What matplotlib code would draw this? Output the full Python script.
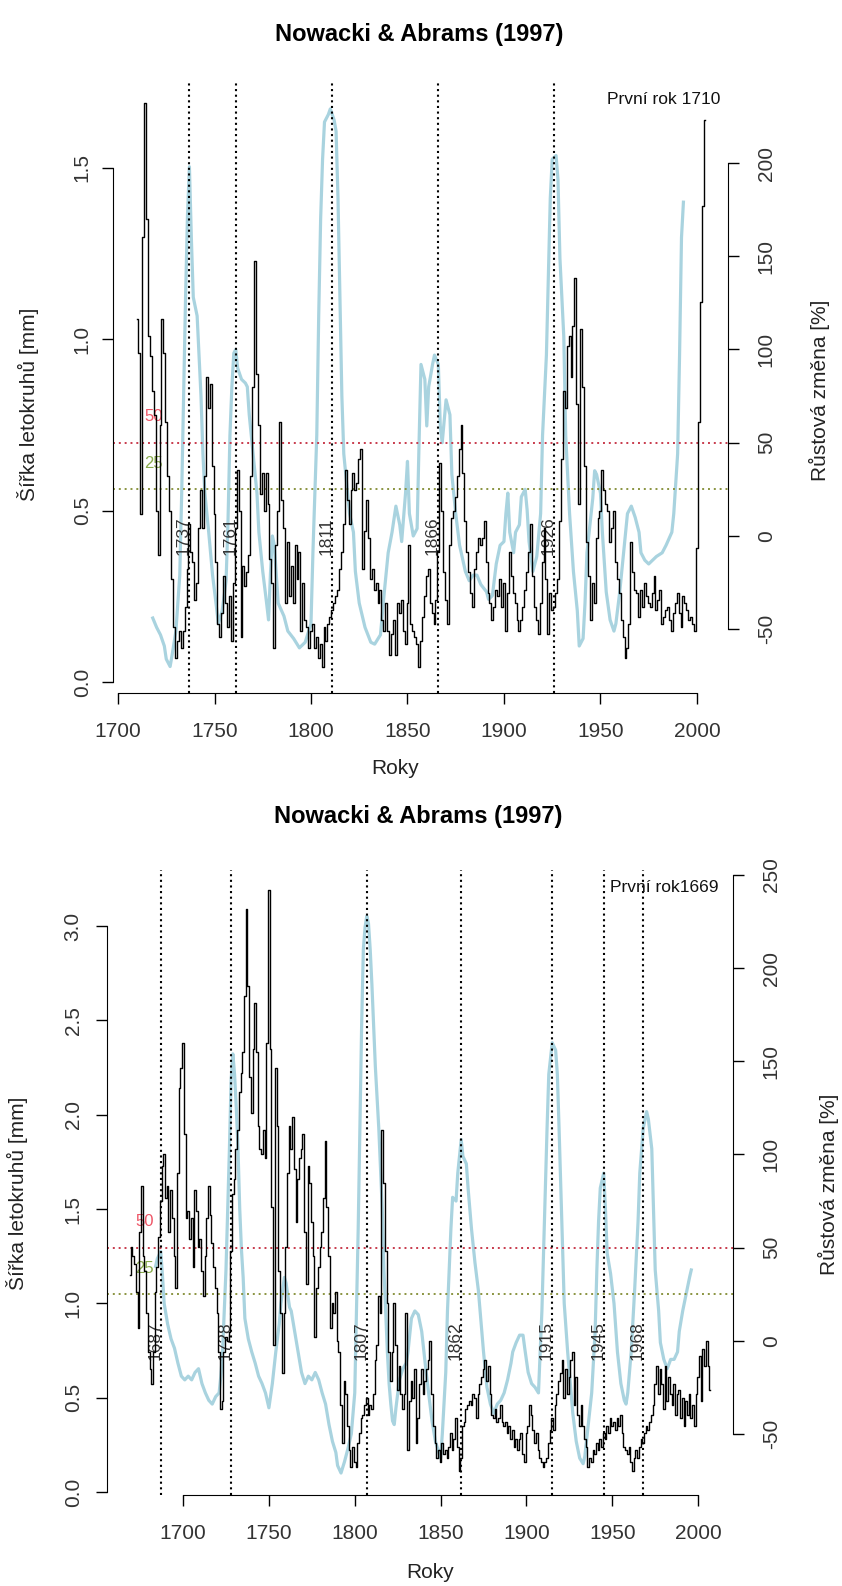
import matplotlib
matplotlib.use("Agg")
import matplotlib.pyplot as plt
import matplotlib.transforms as mtransforms
import numpy as np

plt.rcParams['font.family'] = ['Liberation Sans', 'DejaVu Sans']

TITLE = "Nowacki & Abrams (1997)"
XLABEL = "Roky"
YLABEL_L = "Šířka letokruhů [mm]"
YLABEL_R = "Růstová změna [%]"

# ---------------- top panel data ----------------
top_first_year = 1710
top_first_text = "První rok 1710"
top_ring = [
    1.06, 0.96, 0.49, 1.30, 1.69, 1.35, 1.01, 0.95, 0.85, 0.78,
    0.50, 0.37, 0.75, 1.06, 0.96, 0.76, 0.60, 0.50, 0.30, 0.16,
    0.07, 0.12, 0.15, 0.10, 0.15, 0.22, 0.33, 0.46, 0.38, 0.35,
    0.24, 0.29, 0.45, 0.56, 0.45, 0.60, 0.89, 0.80, 0.87, 0.63,
    0.49, 0.35, 0.17, 0.13, 0.20, 0.31, 0.23, 0.16, 0.25, 0.12,
    0.29, 0.45, 0.62, 0.50, 0.13, 0.34, 0.28, 0.32, 0.37, 0.60,
    0.86, 1.23, 0.90, 0.75, 0.55, 0.61, 0.50, 0.61, 0.52, 0.36,
    0.29, 0.10, 0.40, 0.50, 0.76, 0.53, 0.45, 0.23, 0.41, 0.25,
    0.34, 0.23, 0.40, 0.30, 0.38, 0.15, 0.29, 0.18, 0.16, 0.10,
    0.15, 0.17, 0.10, 0.13, 0.07, 0.11, 0.045, 0.16, 0.12, 0.17,
    0.19, 0.21, 0.23, 0.25, 0.27, 0.33, 0.38, 0.46, 0.62, 0.53,
    0.46, 0.56, 0.61, 0.56, 0.58, 0.65, 0.68, 0.33, 0.44, 0.53,
    0.42, 0.30, 0.33, 0.27, 0.29, 0.23, 0.27, 0.18, 0.15, 0.23,
    0.15, 0.08, 0.14, 0.18, 0.08, 0.23, 0.20, 0.24, 0.15, 0.11,
    0.23, 0.40, 0.17, 0.15, 0.13, 0.11, 0.045, 0.12, 0.19, 0.25,
    0.31, 0.33, 0.23, 0.20, 0.17, 0.24, 0.38, 0.64, 0.50, 0.32,
    0.24, 0.17, 0.40, 0.48, 0.50, 0.54, 0.60, 0.68, 0.75, 0.61,
    0.47, 0.38, 0.32, 0.26, 0.22, 0.33, 0.38, 0.42, 0.40, 0.42,
    0.47, 0.35, 0.26, 0.23, 0.18, 0.22, 0.27, 0.25, 0.30, 0.22,
    0.29, 0.15, 0.26, 0.38, 0.31, 0.26, 0.23, 0.18, 0.15, 0.18,
    0.22, 0.27, 0.32, 0.38, 0.46, 0.31, 0.22, 0.18, 0.14, 0.23,
    0.35, 0.45, 0.30, 0.14, 0.26, 0.21, 0.22, 0.26, 0.30, 0.47,
    0.65, 0.85, 0.80, 0.98, 1.01, 0.89, 1.04, 1.18, 0.81, 0.52,
    1.03, 0.86, 0.63, 0.41, 0.31, 0.18, 0.29, 0.23, 0.42, 0.48,
    0.50, 0.62, 0.56, 0.52, 0.50, 0.41, 0.45, 0.50, 0.35, 0.30,
    0.26, 0.18, 0.13, 0.07, 0.10, 0.17, 0.41, 0.32, 0.27, 0.26,
    0.19, 0.27, 0.22, 0.29, 0.25, 0.23, 0.22, 0.26, 0.31, 0.21,
    0.24, 0.27, 0.17, 0.19, 0.21, 0.22, 0.18, 0.15, 0.20, 0.23,
    0.26, 0.20, 0.16, 0.25, 0.23, 0.21, 0.18, 0.19, 0.17, 0.15,
    0.39, 0.76, 1.11, 1.39, 1.64,
]
top_gc_years = [
    1718, 1720, 1722, 1724, 1725, 1727, 1728, 1730, 1732, 1733, 1734, 1735, 1736, 1737, 1738, 1739,
    1741, 1743, 1744, 1745, 1747, 1749, 1751, 1752, 1754, 1756, 1757, 1758, 1759, 1760, 1761, 1762,
    1764, 1766, 1767, 1768, 1770, 1772, 1773, 1775, 1777, 1778, 1779, 1780, 1781, 1783, 1786, 1788,
    1791, 1794, 1797, 1800, 1801, 1803, 1804, 1805, 1806, 1807, 1809, 1810, 1812, 1813, 1814, 1815,
    1816, 1817, 1819, 1820, 1822, 1823, 1825, 1828, 1831, 1833, 1836, 1838, 1840, 1842, 1844, 1846,
    1847, 1849, 1850, 1851, 1853, 1855, 1856, 1857, 1859, 1860, 1861, 1863, 1864, 1866, 1867, 1868,
    1870, 1872, 1873, 1875, 1877, 1880, 1882, 1884, 1886, 1888, 1891, 1892, 1894, 1896, 1898, 1900,
    1901, 1902, 1903, 1905, 1906, 1908, 1909, 1911, 1912, 1913, 1915, 1917, 1919, 1920, 1922, 1923,
    1924, 1925, 1927, 1928, 1929, 1931, 1932, 1934, 1936, 1938, 1939, 1941, 1942, 1943, 1945, 1946,
    1947, 1948, 1950, 1951, 1953, 1955, 1957, 1958, 1960, 1962, 1964, 1966, 1968, 1970, 1971, 1973,
    1975, 1977, 1979, 1982, 1984, 1987, 1988, 1990, 1991, 1992, 1993,
]
top_gc = [
    -44, -49, -53, -59, -66, -70, -64, -51, -21, 23, 75, 128, 172, 198, 160, 128,
    118, 75, 44, 23, 2, -21, -38, -47, -40, -24, 8, 54, 80, 98, 100, 90,
    84, 82, 80, 65, 44, 23, 2, -19, -36, -45, -20, 0, -5, -36, -43, -51,
    -55, -60, -57, -47, -9, 54, 118, 170, 202, 222, 226, 229, 223, 217, 181, 128,
    75, 44, 23, 12, 2, -19, -36, -49, -57, -58, -53, -30, -9, 2, 16, 6,
    -3, 23, 40, 12, 0, 4, 50, 92, 84, 59, 80, 92, 97, 92, 59, 50,
    73, 65, 33, 12, -5, -19, -24, -21, -21, -26, -30, -34, -32, -15, -5, -3,
    12, 23, 2, -9, 2, 6, 21, 25, 14, -3, -19, -11, 12, 54, 97, 139,
    181, 202, 204, 191, 149, 107, 54, 12, -19, -40, -59, -55, -36, -9, 10, 20,
    35, 33, 23, 2, -30, -45, -51, -47, -30, -9, 12, 16, 10, 2, -9, -13,
    -15, -13, -11, -9, -5, 2, 12, 44, 97, 160, 179,
]
top_release_years = [1737, 1761, 1811, 1866, 1926]

# ---------------- bottom panel data ----------------
bot_first_year = 1669
bot_first_text = "První rok1669"
bot_ring = [
    1.15,
    1.30, 1.25, 1.21, 1.06, 0.87, 1.38, 1.62, 1.25, 1.17, 0.95,
    0.74, 0.65, 0.57, 0.74, 1.06, 1.19, 1.35, 1.54, 1.73, 1.79,
    1.56, 1.62, 1.38, 1.60, 1.45, 1.25, 1.08, 1.69, 2.14, 2.25,
    2.38, 1.90, 1.45, 1.49, 1.34, 1.45, 1.19, 1.60, 1.49, 1.30,
    1.34, 1.17, 1.04, 1.25, 1.45, 1.62, 1.47, 1.32, 1.19, 1.08,
    0.95, 0.74, 0.44, 0.48, 0.74, 0.82, 0.80, 0.85, 1.28, 1.58,
    1.66, 1.82, 1.92, 2.12, 2.22, 2.33, 2.63, 3.09, 2.68, 2.20,
    2.01, 2.35, 2.59, 2.33, 1.94, 1.82, 1.79, 1.92, 1.77, 2.38,
    3.19, 2.35, 1.51, 0.78, 2.25, 1.94, 1.17, 0.95, 0.63, 0.95,
    1.30, 1.69, 1.94, 1.82, 1.99, 1.71, 1.43, 1.66, 1.77, 1.82,
    1.90, 1.38, 1.10, 1.73, 1.64, 1.43, 1.25, 0.82, 1.08, 1.19,
    1.30, 1.38, 1.56, 1.86, 1.51, 1.25, 0.87, 1.00, 0.95, 1.06,
    0.80, 0.74, 0.46, 0.26, 0.59, 0.52, 0.35, 0.22, 0.13, 0.24,
    0.16, 0.13, 0.26, 0.31, 0.39, 0.41, 0.46, 0.50, 0.41, 0.46,
    0.44, 0.52, 0.70, 0.78, 1.04, 0.95, 1.92, 1.64, 1.28, 1.00,
    0.74, 0.59, 0.74, 1.00, 0.78, 0.54, 0.67, 0.52, 0.44, 0.52,
    0.95, 0.22, 0.48, 0.59, 0.50, 0.65, 0.26, 0.39, 0.57, 0.65,
    0.52, 0.59, 0.65, 0.70, 0.80, 0.52, 0.35, 0.26, 0.18, 0.22,
    0.16, 0.26, 0.20, 0.22, 0.18, 0.24, 0.31, 0.22, 0.28, 0.39,
    0.24, 0.11, 0.18, 0.35, 0.37, 0.44, 0.46, 0.48, 0.46, 0.52,
    0.50, 0.39, 0.52, 0.57, 0.61, 0.65, 0.70, 0.59, 0.67, 0.52,
    0.41, 0.39, 0.44, 0.37, 0.39, 0.46, 0.37, 0.35, 0.37, 0.31,
    0.35, 0.28, 0.33, 0.24, 0.28, 0.22, 0.28, 0.31, 0.20, 0.16,
    0.31, 0.35, 0.46, 0.41, 0.33, 0.26, 0.31, 0.22, 0.18, 0.16,
    0.13, 0.16, 0.18, 0.26, 0.33, 0.39, 0.33, 0.46, 0.52, 0.59,
    0.63, 0.70, 0.50, 0.65, 0.52, 0.61, 0.70, 0.74, 0.46, 0.61,
    0.41, 0.35, 0.46, 0.35, 0.28, 0.24, 0.13, 0.18, 0.16, 0.22,
    0.20, 0.26, 0.22, 0.28, 0.24, 0.31, 0.28, 0.35, 0.31, 0.39,
    0.35, 0.37, 0.33, 0.39, 0.35, 0.41, 0.31, 0.24, 0.22, 0.20,
    0.24, 0.16, 0.11, 0.18, 0.22, 0.18, 0.24, 0.28, 0.26, 0.31,
    0.35, 0.33, 0.37, 0.41, 0.46, 0.57, 0.67, 0.52, 0.65, 0.57,
    0.44, 0.67, 0.48, 0.61, 0.52, 0.46, 0.57, 0.41, 0.52, 0.54,
    0.39, 0.50, 0.35, 0.48, 0.41, 0.52, 0.39, 0.46, 0.35, 0.52,
    0.61, 0.72, 0.48, 0.76, 0.67, 0.80, 0.67, 0.54,
]
bot_gc_years = [
    1684, 1685, 1687, 1688, 1689, 1691, 1693, 1695, 1697, 1699, 1701, 1703, 1705, 1707, 1709, 1711,
    1713, 1715, 1717, 1719, 1721, 1722, 1723, 1724, 1725, 1726, 1727, 1728, 1729, 1730, 1731, 1732,
    1733, 1734, 1735, 1736, 1738, 1740, 1742, 1744, 1746, 1748, 1750, 1752, 1754, 1756, 1757, 1759,
    1760, 1762, 1763, 1765, 1767, 1769, 1771, 1773, 1775, 1777, 1779, 1781, 1783, 1785, 1787, 1789,
    1790, 1792, 1794, 1796, 1798, 1800, 1801, 1802, 1803, 1804, 1805, 1806, 1807, 1808, 1809, 1810,
    1811, 1812, 1813, 1814, 1815, 1816, 1817, 1818, 1819, 1820, 1821, 1822, 1823, 1824, 1826, 1828,
    1830, 1831, 1833, 1835, 1837, 1839, 1841, 1843, 1845, 1847, 1849, 1850, 1851, 1853, 1854, 1855,
    1856, 1857, 1859, 1860, 1862, 1863, 1865, 1866, 1868, 1870, 1872, 1873, 1875, 1877, 1879, 1881,
    1883, 1885, 1887, 1889, 1891, 1892, 1894, 1896, 1898, 1899, 1901, 1903, 1905, 1907, 1909, 1910,
    1911, 1912, 1913, 1915, 1917, 1918, 1919, 1920, 1921, 1922, 1924, 1925, 1927, 1929, 1931, 1933,
    1934, 1936, 1938, 1940, 1941, 1942, 1943, 1945, 1946, 1947, 1949, 1951, 1953, 1955, 1957, 1958,
    1959, 1961, 1963, 1965, 1966, 1968, 1970, 1971, 1973, 1974, 1975, 1977, 1978, 1980, 1982, 1984,
    1986, 1988, 1989, 1991, 1993, 1995, 1996,
]
bot_gc = [
    40, 44, 48, 35, 20, 9, 1, -4, -12, -19, -21, -19, -21, -17, -15, -23,
    -28, -32, -34, -30, -28, -19, -6, 16, 38, 71, 103, 140, 154, 143, 125, 103,
    71, 49, 34, 12, 1, -6, -12, -19, -23, -28, -36, -23, -6, 9, 20, 34,
    31, 18, 16, 5, -6, -17, -23, -19, -21, -17, -21, -28, -34, -45, -54, -60,
    -67, -71, -65, -58, -50, -28, 16, 60, 114, 169, 210, 222, 228, 224, 210, 191,
    169, 147, 130, 114, 93, 71, 38, 16, -6, -23, -34, -43, -45, -36, -21, -15,
    -12, -6, 12, 16, 14, 5, -12, -28, -43, -54, -60, -63, -50, -17, 16, 38,
    60, 77, 75, 90, 108, 99, 95, 82, 60, 42, 27, 16, -6, -25, -34, -39,
    -34, -32, -28, -21, -12, -6, -1, 3, 3, -4, -17, -23, -25, -28, 16, 49,
    82, 114, 143, 160, 156, 143, 114, 82, 49, 20, -6, -17, -39, -54, -63, -66,
    -62, -45, -28, 5, 38, 64, 82, 90, 71, 47, 36, 20, -6, -23, -32, -34,
    -28, -6, 27, 64, 90, 114, 123, 119, 103, 71, 38, 16, -1, -10, -15, -10,
    -10, -6, 5, 16, 25, 34, 38,
]
bot_release_years = [1687, 1728, 1807, 1862, 1915, 1945, 1968]

thresholds = [50, 25]
threshold_line_colors = ['#c83a4c', '#8a9440']
threshold_text_colors = ['#ee5566', '#88aa4c']

x_ticks = [1700, 1750, 1800, 1850, 1900, 1950, 2000]

W, H = 842, 1586
fig = plt.figure(figsize=(W / 100, H / 100), dpi=100)

TICK_COLOR = '#333333'
BLACK_LW = 1.0
BLUE = '#a9d3df'


def px_axes(l, t, r, b):
    return fig.add_axes([l / W, 1 - b / H, (r - l) / W, (b - t) / H])


def ftext(x, y, s, **kw):
    fig.text(x / W, 1 - y / H, s, **kw)


def panel(box, xlim, ylim_l, ylim_r, lticks, lticklabels, rticks,
          ring, first_year, gc_years, gc, releases, lpad, rpad, first_text, first_xy):
    ax = px_axes(*box)
    ax2 = ax.twinx()
    ax.set_zorder(ax2.get_zorder() + 1)
    ax.patch.set_visible(False)

    years = np.arange(first_year, first_year + len(ring))
    ax2.plot(gc_years, gc, color=BLUE, lw=2.3, solid_joinstyle='round')
    ax.plot(years, ring, color='black', lw=BLACK_LW, drawstyle='steps-mid')

    for lvl, lc, tc in zip(thresholds, threshold_line_colors, threshold_text_colors):
        ax2.axhline(lvl, color=lc, lw=1.4, linestyle=(0, (1, 2)))
        ax2.text(first_year + 8.5, lvl + 14, str(lvl), color=tc, fontsize=12,
                 ha='center', va='center')

    off = mtransforms.offset_copy(ax2.transData, fig=fig, x=1.5, y=0, units='dots')
    for yr in releases:
        ax.axvline(yr, color='black', lw=1.5, linestyle=(0, (1, 1.7)))
        ax2.text(yr, 0, str(yr), rotation=90, ha='right', va='center',
                 fontsize=12.5, color='#333333', transform=off)

    ax.set_xlim(*xlim)
    ax.set_ylim(*ylim_l)
    ax2.set_ylim(*ylim_r)

    for a in (ax, ax2):
        for s in a.spines.values():
            s.set_visible(False)
    ax.spines['left'].set_visible(True)
    ax.spines['bottom'].set_visible(True)
    ax.spines['left'].set_bounds(lticks[0], lticks[-1])
    ax.spines['bottom'].set_bounds(x_ticks[0], x_ticks[-1])
    ax2.spines['right'].set_visible(True)
    ax2.spines['right'].set_bounds(rticks[0], rticks[-1])

    ax.set_xticks(x_ticks)
    ax.set_xticklabels([str(t) for t in x_ticks])
    ax.set_yticks(lticks)
    ax.set_yticklabels(lticklabels, rotation=90, va='center')
    ax2.set_yticks(rticks)
    ax2.set_yticklabels([str(t) for t in rticks], rotation=90, va='center')

    ax.tick_params(axis='x', direction='out', length=8, width=1, labelsize=15,
                   labelcolor=TICK_COLOR, pad=13)
    ax.tick_params(axis='y', direction='out', length=8, width=1, labelsize=15,
                   labelcolor=TICK_COLOR, pad=lpad)
    ax2.tick_params(axis='y', direction='out', length=8, width=1, labelsize=15,
                    labelcolor=TICK_COLOR, pad=rpad)

    ftext(first_xy[0], first_xy[1], first_text, fontsize=12.5, ha='right', va='center',
          color='#111111')
    return ax, ax2


# top panel
panel((113, 83, 728, 693), (1697.4, 2016.1), (-0.032, 1.748), (-84.2, 242.9),
      [0.0, 0.5, 1.0, 1.5], ['0.0', '0.5', '1.0', '1.5'], [-50, 0, 50, 100, 150, 200],
      top_ring, top_first_year, top_gc_years, top_gc, top_release_years,
      7.3, 12.7, top_first_text, (720, 100))
ftext(419, 35, TITLE, fontsize=17, fontweight='bold', ha='center', va='center')
ftext(395, 768, XLABEL, fontsize=15, ha='center', va='center', color='#222222')
ftext(28, 404, YLABEL_L, fontsize=15, ha='center', va='center', rotation=90, color='#222222')
ftext(819, 390, YLABEL_R, fontsize=15, ha='center', va='center', rotation=90, color='#222222')

# bottom panel
panel((107, 870, 733, 1495), (1655.7, 2020.3), (-0.016, 3.297), (-82.8, 252.7),
      [0.0, 0.5, 1.0, 1.5, 2.0, 2.5, 3.0], ['0.0', '0.5', '1.0', '1.5', '2.0', '2.5', '3.0'],
      [-50, 0, 50, 100, 150, 200, 250],
      bot_ring, bot_first_year, bot_gc_years, bot_gc, bot_release_years,
      9.5, 12.7, bot_first_text, (718, 887))
ftext(418, 817, TITLE, fontsize=17, fontweight='bold', ha='center', va='center')
ftext(430, 1573, XLABEL, fontsize=15, ha='center', va='center', color='#222222')
ftext(17, 1193, YLABEL_L, fontsize=15, ha='center', va='center', rotation=90, color='#222222')
ftext(828, 1184, YLABEL_R, fontsize=15, ha='center', va='center', rotation=90, color='#222222')

fig.savefig("out.png", dpi=100)
